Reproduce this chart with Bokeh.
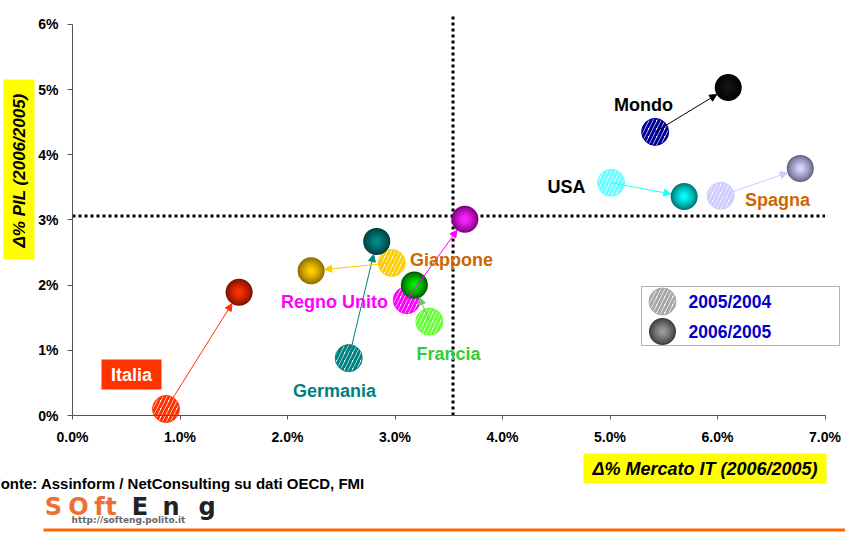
import math

from bokeh.plotting import figure
from bokeh.models import Range1d, FixedTicker, Label, BoxAnnotation, Arrow, NormalHead
from bokeh.embed import file_html
from bokeh.resources import INLINE

# --- data: Δ% IT market (x) and Δ% GDP (y), two periods ---------------------
countries = ["Italia", "Germania", "Giappone", "Regno Unito", "Francia", "Mondo", "USA", "Spagna"]
it_2005 = [0.87, 2.57, 2.97, 3.11, 3.32, 5.42, 5.01, 6.03]     # 2005/2004
pil_2005 = [0.10, 0.88, 2.34, 1.77, 1.44, 4.35, 3.57, 3.37]
it_2006 = [1.55, 2.83, 2.22, 3.65, 3.18, 6.10, 5.69, 6.77]     # 2006/2005
pil_2006 = [1.89, 2.67, 2.22, 3.01, 2.00, 5.03, 3.36, 3.79]

it_ref = 3.54     # vertical reference line
pil_ref = 3.06    # horizontal reference line

x_ticks = [0, 1, 2, 3, 4, 5, 6, 7]
x_tick_labels = ["0.0%", "1.0%", "2.0%", "3.0%", "4.0%", "5.0%", "6.0%", "7.0%"]
y_ticks = [0, 1, 2, 3, 4, 5, 6]
y_tick_labels = ["0%", "1%", "2%", "3%", "4%", "5%", "6%"]

legend_labels = ["2005/2004", "2006/2005"]

# --- styling -----------------------------------------------------------------
hatch_colors = ["#FF3300", "#008080", "#FFCC00", "#FF00FF", "#66FF33", "#000099", "#66FFFF", "#CCCCFF"]
sphere_edge = ["#7A1000", "#003C3C", "#8A6A00", "#7A007A", "#005A00", "#000000", "#007070", "#62627F"]
sphere_core = ["#FF3300", "#008A8A", "#FFD000", "#FF22FF", "#00F000", "#151515", "#00FFFF", "#D4D4FF"]
arrow_colors = ["#FF3300", "#008080", "#FFCC00", "#FF00FF", "#66CC66", "#000000", "#22FFFF", "#CCCCFF"]
label_colors = ["#FFFFFF", "#008080", "#CC6600", "#FF00FF", "#33CC33", "#000000", "#000000", "#CC6600"]
# label centres in canvas pixels
label_pos = [(131, 374.5), (334, 390), (451, 259), (334, 301), (448, 353), (643, 104), (566, 186), (777, 199)]

FONT = "Liberation Sans"
W, H = 845, 535
X0_PX, Y0_PX = 72, 415            # canvas position of the (0, 0) corner
PX_X, PX_Y = 107.5, 65.2          # pixels per percentage point
R = 13.5                          # marker radius in pixels


def sx(px):
    """canvas x pixel -> screen units of the frame"""
    return px


def sy(py):
    """canvas y pixel (from top) -> screen units of the frame (from bottom)"""
    return H - py


def mix(c1, c2, t):
    a = [int(c1[i:i + 2], 16) for i in (1, 3, 5)]
    b = [int(c2[i:i + 2], 16) for i in (1, 3, 5)]
    return "#%02x%02x%02x" % tuple(round(a[k] + (b[k] - a[k]) * t) for k in range(3))


# the frame fills the whole canvas; the axes sit at the data origin
p = figure(width=W, height=H,
           x_range=Range1d(-X0_PX / PX_X, (W - X0_PX) / PX_X),
           y_range=Range1d(-(H - Y0_PX) / PX_Y, Y0_PX / PX_Y),
           output_backend="svg", toolbar_location=None,
           min_border=0)
p.grid.visible = False
p.outline_line_color = None
p.background_fill_color = "white"
p.border_fill_color = "white"

for ax, ticks, labels, bnd in ((p.xaxis, x_ticks, x_tick_labels, (0, 7)),
                               (p.yaxis, y_ticks, y_tick_labels, (0, 6))):
    ax.ticker = FixedTicker(ticks=ticks)
    ax.major_label_overrides = {t: lab for t, lab in zip(ticks, labels)}
    ax.bounds = bnd
    ax.fixed_location = 0
    ax.axis_line_color = "#555555"
    ax.major_tick_line_color = "#555555"
    ax.minor_tick_line_color = None
    ax.major_tick_in = 0
    ax.major_label_text_font = FONT
    ax.major_label_text_font_style = "bold"
    ax.major_label_text_font_size = "14px"
    ax.major_label_text_color = "black"
p.xaxis.major_tick_out = 4
p.yaxis.major_tick_out = 5
p.xaxis.major_label_standoff = 9
p.yaxis.major_label_standoff = 9

# dotted reference lines
y_top = (Y0_PX - 13) / PX_Y
p.segment(x0=[0], y0=[pil_ref], x1=[7], y1=[pil_ref], line_color="black", line_width=3, line_dash="3 3")
p.segment(x0=[it_ref], y0=[0], x1=[it_ref], y1=[y_top], line_color="black", line_width=3, line_dash="3 3")

# 2005/2004: hatched circles
p.scatter(it_2005, pil_2005, size=2 * R, marker="circle", fill_color="white",
          line_color=hatch_colors, line_width=1, hatch_pattern="/",
          hatch_color=hatch_colors, hatch_weight=3, hatch_scale=8)


def spheres(xs, ys, edges, cores, size, level="glyph"):
    n = 12
    for k in range(n):
        t = k / (n - 1)
        s = size * (1 - 0.85 * t)
        cols = [mix(e, c, t ** 0.75) for e, c in zip(edges, cores)]
        p.scatter(xs, ys, size=s, marker="circle", fill_color=cols, line_color=None, level=level)


# 2006/2005: shaded spheres
spheres(it_2006, pil_2006, sphere_edge, sphere_core, 2 * R)

# arrows from the 2005 position to the edge of the 2006 sphere
for i, c in enumerate(arrow_colors):
    dxp = (it_2006[i] - it_2005[i]) * PX_X
    dyp = (pil_2006[i] - pil_2005[i]) * PX_Y
    L = math.hypot(dxp, dyp)
    xe = it_2006[i] - dxp / L * R / PX_X
    ye = pil_2006[i] - dyp / L * R / PX_Y
    p.add_layout(Arrow(end=NormalHead(size=7, fill_color=c, line_color=c, line_width=1),
                       x_start=it_2005[i], y_start=pil_2005[i], x_end=xe, y_end=ye,
                       line_color=c, line_width=1))


def box(l, t, r, b, **kw):
    p.add_layout(BoxAnnotation(left=sx(l), right=sx(r), top=sy(t), bottom=sy(b),
                               left_units="screen", right_units="screen",
                               top_units="screen", bottom_units="screen", **kw))


def text(px, py, s, **kw):
    opts = dict(text_font=FONT, text_font_style="bold", text_font_size="18px",
                text_color="black", text_align="center", text_baseline="middle")
    opts.update(kw)
    p.add_layout(Label(x=sx(px), y=sy(py), x_units="screen", y_units="screen", text=s, **opts))


# country labels
for name, col, (px, py) in zip(countries, label_colors, label_pos):
    if name == "Italia":
        box(101, 359, 161, 389, fill_color="#FF3300", fill_alpha=1, line_color=None)
    text(px, py, name, text_color=col)

# legend
box(641, 286, 839, 345, fill_color="white", fill_alpha=1, line_color="black", line_width=1)
leg_x = (662 - X0_PX) / PX_X
leg_y1 = (Y0_PX - 301) / PX_Y
leg_y2 = (Y0_PX - 331) / PX_Y
p.scatter([leg_x], [leg_y1], size=2 * R, marker="circle", fill_color="white",
          line_color="#A8A8A8", line_width=1, hatch_pattern="/",
          hatch_color="#A8A8A8", hatch_weight=3, hatch_scale=8, level="overlay")
spheres([leg_x], [leg_y2], ["#3A3A3A"], ["#9A9A9A"], 2 * R, level="overlay")
for lab, py in zip(legend_labels, (301, 331)):
    text(688, py, lab, text_font_size="17.5px", text_color="#0000CC", text_align="left")

# axis titles on yellow boxes
box(3, 79, 34, 259, fill_color="#FFFF00", fill_alpha=1, line_color=None)
text(18.5, 170, "Δ% PIL (2006/2005)", angle=90, angle_units="deg",
     text_font_style="bold italic", text_font_size="17px")
box(583, 453, 826, 483, fill_color="#FFFF00", fill_alpha=1, line_color=None)
text(704.5, 468, "Δ% Mercato IT (2006/2005)", text_font_style="bold italic")

# source note
text(-9, 483, "Fonte: Assinform / NetConsulting su dati OECD, FMI", text_font_size="15px",
     text_align="left")

# logo
logo = [("S", 53, "#EE6F33"), ("O", 78, "#EE6F33"), ("f", 99, "#EE6F33"), ("t", 110.5, "#EE6F33"),
        ("E", 139.5, "#222222"), ("n", 170.5, "#222222"), ("g", 206.5, "#222222")]
for ch, px, col in logo:
    text(px, 506, ch, text_font="DejaVu Sans", text_font_style="bold", text_font_size="24px",
         text_color=col)
text(128, 519, "http://softeng.polito.it", text_font="DejaVu Sans", text_font_size="9px",
     text_color="#666666")
box(43, 528, 845, 531, fill_color="#FF6600", fill_alpha=1, line_color=None)

open("out.html", "w").write(file_html(p, INLINE))
